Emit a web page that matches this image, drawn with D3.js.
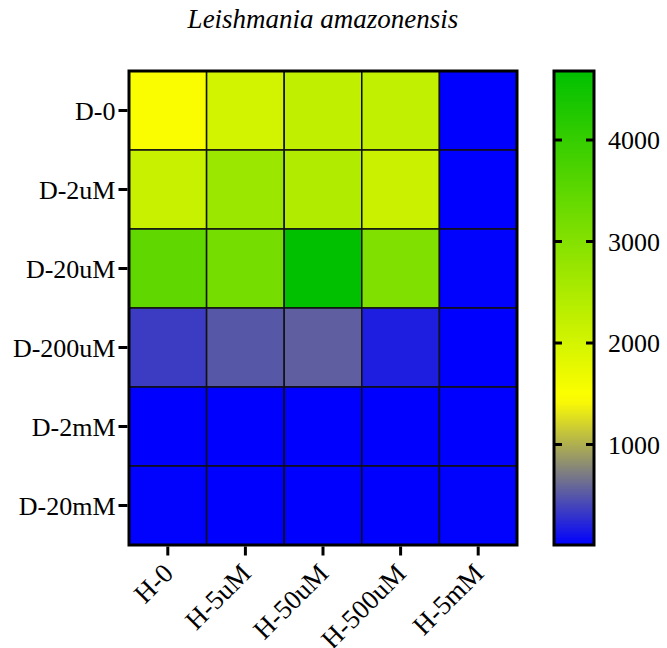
<!DOCTYPE html>
<html>
<head>
<meta charset="utf-8">
<script src="https://cdn.jsdelivr.net/npm/d3@7"></script>
<style>
  html, body { margin: 0; padding: 0; background: #fff; }
  svg { display: block; }
</style>
</head>
<body>
<script>
// Row (D) and column (H) treatment labels
const rowLabels = ["D-0", "D-2uM", "D-20uM", "D-200uM", "D-2mM", "D-20mM"];
const colLabels = ["H-0", "H-5uM", "H-50uM", "H-500uM", "H-5mM"];

// Cell values, one array per row (columns H-0 … H-5mM)
const rowD0     = [1530, 2020, 2250, 2240, 12];
const rowD2uM   = [2150, 2700, 2450, 2120, 12];
const rowD20uM  = [3460, 3200, 4680, 3060, 14];
const rowD200uM = [350, 500, 540, 180, 12];
const rowD2mM   = [12, 10, 10, 10, 12];
const rowD20mM  = [14, 12, 12, 12, 14];
const values = [rowD0, rowD2uM, rowD20uM, rowD200uM, rowD2mM, rowD20mM];

// Colour scale stops and colour-bar ticks
const scaleMin = 10, scaleMid = 1450, scaleMax = 4680;
const scaleColors = ["#0000ff", "#ffff00", "#00c000"];
const barTicks = [1000, 2000, 3000, 4000];

const title = "Leishmania amazonensis";
const SERIF = "Liberation Serif";

const W = 667, H = 648;
const plot = { left: 129, right: 517, top: 71, bottom: 545 };
const bar = { left: 554, right: 594, top: 71, bottom: 545 };

const svg = d3.select("body").append("svg")
  .attr("width", W).attr("height", H)
  .attr("font-family", SERIF);

const x = d3.scaleBand().domain(colLabels).range([plot.left, plot.right]);
const y = d3.scaleBand().domain(rowLabels).range([plot.top, plot.bottom]);
const color = d3.scaleLinear().domain([scaleMin, scaleMid, scaleMax]).range(scaleColors);

// Title
svg.append("text")
  .attr("x", 323).attr("y", 28)
  .attr("text-anchor", "middle")
  .attr("font-family", SERIF)
  .attr("font-size", 27).attr("font-style", "italic")
  .text(title);

// Cells
const cells = [];
values.forEach((row, i) => row.forEach((v, j) => cells.push({ r: rowLabels[i], c: colLabels[j], v })));
svg.append("g").selectAll("rect").data(cells).join("rect")
  .attr("x", d => x(d.c)).attr("y", d => y(d.r))
  .attr("width", x.bandwidth()).attr("height", y.bandwidth())
  .attr("fill", d => color(d.v))
  .attr("stroke", "#111").attr("stroke-width", 1.5);

// Frame
svg.append("rect")
  .attr("x", plot.left).attr("y", plot.top)
  .attr("width", plot.right - plot.left).attr("height", plot.bottom - plot.top)
  .attr("fill", "none").attr("stroke", "#000").attr("stroke-width", 3);

// Y axis
const yAxis = svg.append("g")
  .attr("transform", `translate(${plot.left - 1.5},0)`)
  .call(d3.axisLeft(y).tickSize(9).tickPadding(3));
yAxis.attr("font-family", SERIF).attr("font-size", 26);
yAxis.select(".domain").remove();
yAxis.selectAll(".tick line").attr("stroke", "#000").attr("stroke-width", 3);
yAxis.selectAll(".tick text")
  .attr("font-family", SERIF).attr("font-size", 26).attr("fill", "#000")
  .attr("dy", "0.35em");

// X axis
const xAxis = svg.append("g")
  .attr("transform", `translate(0,${plot.bottom + 1.5})`)
  .call(d3.axisBottom(x).tickSize(9).tickFormat(""));
xAxis.select(".domain").remove();
xAxis.selectAll(".tick line").attr("stroke", "#000").attr("stroke-width", 3);
svg.append("g").selectAll("text").data(colLabels).join("text")
  .attr("transform", d => `translate(${x(d) + x.bandwidth() / 2 + 7},${plot.bottom + 30}) rotate(-45)`)
  .attr("text-anchor", "end")
  .attr("font-family", SERIF)
  .attr("font-size", 27)
  .text(d => d);

// Colour bar
const grad = svg.append("defs").append("linearGradient")
  .attr("id", "cbar").attr("x1", 0).attr("x2", 0).attr("y1", 1).attr("y2", 0);
d3.range(0, 1.0001, 0.02).forEach(t => {
  grad.append("stop")
    .attr("offset", t)
    .attr("stop-color", color(scaleMin + t * (scaleMax - scaleMin)));
});
svg.append("rect")
  .attr("x", bar.left).attr("y", bar.top)
  .attr("width", bar.right - bar.left).attr("height", bar.bottom - bar.top)
  .attr("fill", "url(#cbar)")
  .attr("stroke", "#000").attr("stroke-width", 3);

const cb = d3.scaleLinear().domain([scaleMin, scaleMax]).range([bar.bottom, bar.top]);
const cbTicks = svg.append("g").selectAll("g").data(barTicks).join("g")
  .attr("transform", d => `translate(0,${cb(d)})`);
cbTicks.append("line")
  .attr("x1", bar.left).attr("x2", bar.left + 8)
  .attr("stroke", "#000").attr("stroke-width", 3);
cbTicks.append("line")
  .attr("x1", bar.right - 8).attr("x2", bar.right)
  .attr("stroke", "#000").attr("stroke-width", 3);
cbTicks.append("text")
  .attr("x", bar.right + 14).attr("dy", "0.35em")
  .attr("font-family", SERIF)
  .attr("font-size", 26)
  .text(d => d);
</script>
</body>
</html>
